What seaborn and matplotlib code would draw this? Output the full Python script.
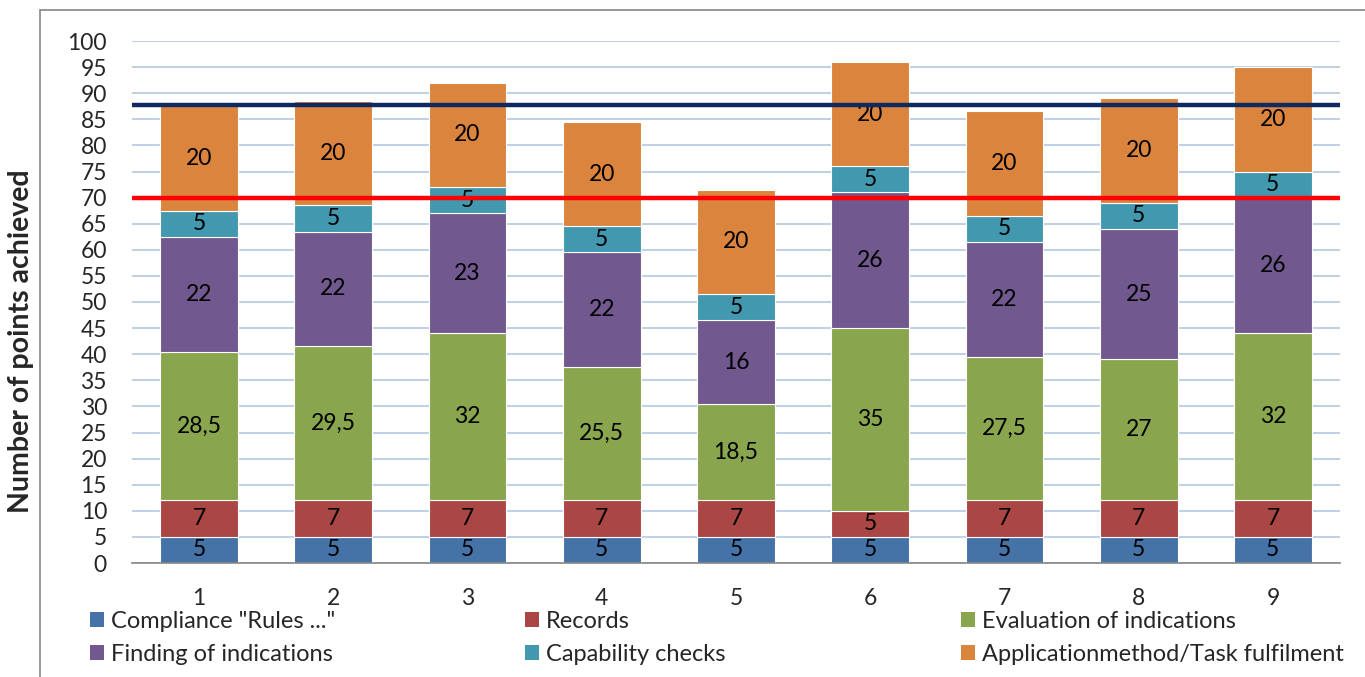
import matplotlib
matplotlib.use("Agg")
import matplotlib.pyplot as plt
from matplotlib.patches import Patch, Rectangle
import seaborn as sns
import numpy as np
import pandas as pd

# data
groups = ["1", "2", "3", "4", "5", "6", "7", "8", "9"]
series_names = ['Compliance "Rules ..."', "Records", "Evaluation of indications",
                "Finding of indications", "Capability checks",
                "Applicationmethod/Task fulfilment"]
compliance = [5, 5, 5, 5, 5, 5, 5, 5, 5]
records = [7, 7, 7, 7, 7, 5, 7, 7, 7]
evaluation = [28.5, 29.5, 32, 25.5, 18.5, 35, 27.5, 27, 32]
finding = [22, 22, 23, 22, 16, 26, 22, 25, 26]
capability = [5, 5, 5, 5, 5, 5, 5, 5, 5]
application = [20, 20, 20, 20, 20, 20, 20, 20, 20]
pass_mark = 70
colors = ["#4572A7", "#AA4643", "#89A54E", "#71588F", "#4198AF", "#DB843D"]

values = [compliance, records, evaluation, finding, capability, application]
df = pd.DataFrame({name: v for name, v in zip(series_names, values)}, index=groups)
totals = df.sum(axis=1)
mean_total = totals.mean()

sns.set_theme(style="white")
plt.rcParams["font.family"] = ["Lato", "DejaVu Sans"]

fig = plt.figure(figsize=(13.65, 6.77), dpi=100)
ax = fig.add_axes([132 / 1365, 1 - 563 / 677, 1208 / 1365, 522 / 677])

bottom = np.zeros(len(groups))
for name, col in zip(series_names, colors):
    sns.barplot(x=groups, y=df[name].values, color=col, width=0.58,
                bottom=bottom, ax=ax, saturation=1, edgecolor="white", linewidth=0.8)
    cont = ax.containers[-1]
    labels = [("%g" % v).replace(".", ",") for v in df[name].values]
    ax.bar_label(cont, labels=labels, label_type="center", fontsize=16.5, color="black")
    bottom = bottom + df[name].values

ax.axhline(mean_total, color="#10295E", lw=3.2, zorder=5)
ax.axhline(pass_mark, color="#FF0000", lw=3.2, zorder=5)

ax.set_ylim(0, 100)
ax.set_xlim(-0.5, 8.5)
ax.set_yticks(range(0, 101, 5))
ax.yaxis.grid(True, color="#B9CDE5", lw=1.3)
ax.set_axisbelow(True)
for s in ["top", "right", "left"]:
    ax.spines[s].set_visible(False)
ax.spines["bottom"].set_color("#868686")
ax.spines["bottom"].set_linewidth(1.2)
ax.tick_params(axis="y", length=0, pad=18, labelsize=16.5)
ax.tick_params(axis="x", length=0, pad=18, labelsize=16.5)
ax.set_xlabel("")
ax.set_ylabel("Number of points achieved", fontsize=20.5, fontweight="bold")
ax.yaxis.set_label_coords(-0.081, 0.425)

# legend in three columns, placed like the original
handles = [Patch(facecolor=c, edgecolor="none") for c in colors]
xs = [90 / 1365, 525 / 1365, 961 / 1365]
for i, x in enumerate(xs):
    fig.legend(handles=[handles[i], handles[i + 3]],
               labels=[series_names[i], series_names[i + 3]],
               loc="upper left", bbox_to_anchor=(x, 1 - 611 / 677), frameon=False,
               fontsize=17, handlelength=0.6, handleheight=0.6, handletextpad=0.3,
               labelspacing=0.5, borderaxespad=0, borderpad=0)

# outer chart frame
fig.add_artist(Rectangle((40 / 1365, -0.1), 1.2, 0.1 + 1 - 10 / 677,
                         transform=fig.transFigure, fill=False,
                         edgecolor="#868686", lw=1.2))

fig.savefig("out.png", dpi=100)
